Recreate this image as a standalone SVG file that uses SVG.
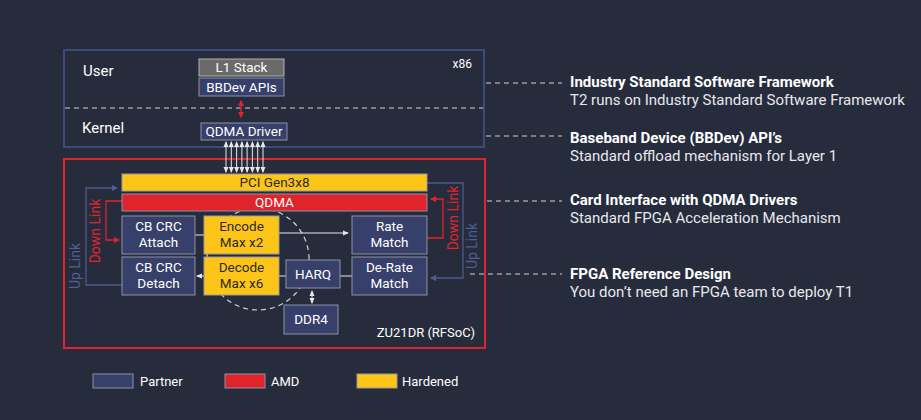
<svg xmlns="http://www.w3.org/2000/svg" width="921" height="420" viewBox="0 0 921 420">
<style>
text{font-family:Roboto,"Liberation Sans",sans-serif}
.bg{fill:#272c3d}
.partner{fill:#37406a;stroke:#8c92a3;stroke-width:1}
.amd{fill:#e0242b;stroke:#8c92a3;stroke-width:1}
.hard{fill:#fec519;stroke:#9a9aa0;stroke-width:1}
.grey{fill:#6a6a6a;stroke:#b0b0b0;stroke-width:1}
.t{font-size:13.5px;fill:#ffffff;text-anchor:middle}
.td{font-size:13.5px;fill:#2a2a2a;text-anchor:middle}
.lbl{font-size:15px;fill:#ffffff}
.h{font-size:15px;font-weight:bold;fill:#ffffff}
.s{font-size:15px;fill:#e8e8ec}
.dash{stroke:#d0d3da;stroke-width:1.2;stroke-dasharray:5 4;fill:none}
.w{stroke:#e6e6e6;stroke-width:1;fill:none}
.red{stroke:#e0242b;stroke-width:1.3;fill:none}
.blue{stroke:#4c5a8c;stroke-width:1.3;fill:none}
.lg{font-size:13px;fill:#ffffff}
</style>
<defs>
<marker id="aw" viewBox="0 0 6 6" refX="5" refY="3" markerWidth="6" markerHeight="6" orient="auto-start-reverse"><path d="M0,0.5 L6,3 L0,5.5 z" fill="#e6e6e6"/></marker>
<marker id="ar" viewBox="0 0 6 6" refX="5" refY="3" markerWidth="5" markerHeight="5" orient="auto-start-reverse"><path d="M0,0 L6,3 L0,6 z" fill="#e0242b"/></marker>
<marker id="ab" viewBox="0 0 6 6" refX="5" refY="3" markerWidth="5" markerHeight="5" orient="auto-start-reverse"><path d="M0,0 L6,3 L0,6 z" fill="#4f5e94"/></marker>
</defs>
<rect class="bg" x="0" y="0" width="921" height="420"/>

<g id="x86">
<rect x="64" y="50" width="420" height="97" fill="none" stroke="#3d4a7c" stroke-width="2"/>
<line class="dash" x1="65" y1="108" x2="483" y2="108"/>
<text class="lbl" x="83" y="76">User</text>
<text class="lbl" x="82" y="133">Kernel</text>
<text x="472" y="68" font-size="12" fill="#ffffff" text-anchor="end">x86</text>
</g>

<g id="rfsoc">
<rect x="64" y="159" width="421" height="189" fill="none" stroke="#e0242b" stroke-width="2"/>
<text x="475" y="337" font-size="13" fill="#ffffff" text-anchor="end">ZU21DR (RFSoC)</text>
</g>

<g id="connectors">
<line x1="241" y1="101" x2="241" y2="117" class="red" marker-start="url(#ar)" marker-end="url(#ar)"/>
<g class="w" marker-start="url(#aw)" marker-end="url(#aw)">
<line x1="226" y1="142" x2="226" y2="172"/>
<line x1="231.3" y1="142" x2="231.3" y2="172"/>
<line x1="236.6" y1="142" x2="236.6" y2="172"/>
<line x1="241.9" y1="142" x2="241.9" y2="172"/>
<line x1="247.1" y1="142" x2="247.1" y2="172"/>
<line x1="252.4" y1="142" x2="252.4" y2="172"/>
<line x1="257.7" y1="142" x2="257.7" y2="172"/>
<line x1="263" y1="142" x2="263" y2="172"/>
</g>
<circle cx="258" cy="259" r="51" class="dash" stroke-dasharray="4 4"/>
<line x1="195" y1="235" x2="204" y2="235" class="w"/>
<line x1="279" y1="233" x2="348" y2="233" class="w" marker-end="url(#aw)"/>
<line x1="352" y1="276" x2="340" y2="276" class="w"/>
<line x1="286" y1="276" x2="279" y2="276" class="w"/>
<line x1="204" y1="276" x2="197" y2="276" class="w" marker-end="url(#aw)"/>
<line x1="312" y1="291" x2="312" y2="303" class="w" marker-start="url(#aw)" marker-end="url(#aw)"/>
<polyline class="blue" points="122,285 86,285 86,188 117,188" marker-end="url(#ab)"/>
<polyline class="red" points="122,201 106,201 106,240 119,240" marker-end="url(#ar)"/>
<polyline class="red" points="427,238 443,238 443,199 431,199" marker-end="url(#ar)"/>
<polyline class="blue" points="427,183 463,183 463,278 431,278" marker-end="url(#ab)"/>
<line class="dash" x1="486" y1="83" x2="562" y2="83"/>
<line class="dash" x1="486" y1="136" x2="562" y2="136"/>
<line class="dash" x1="487" y1="201" x2="562" y2="201"/>
<line class="dash" x1="470" y1="274" x2="562" y2="274"/>
</g>

<text x="75" y="266" font-size="14" fill="#4f5e94" text-anchor="middle" transform="rotate(-90 75 266)" dy="5">Up Link</text>
<text x="95" y="231" font-size="14" fill="#e0242b" text-anchor="middle" transform="rotate(-90 95 231)" dy="5">Down Link</text>
<text x="453" y="218" font-size="14" fill="#e0242b" text-anchor="middle" transform="rotate(-90 453 218)" dy="5">Down Link</text>
<text x="472" y="246" font-size="14" fill="#4f5e94" text-anchor="middle" transform="rotate(-90 472 246)" dy="5">Up Link</text>

<g id="l1stack"><rect class="grey" x="199" y="59" width="85" height="17"/><text class="t" x="241.5" y="72">L1 Stack</text></g>
<g id="bbdev"><rect class="partner" x="199" y="78" width="85" height="18"/><text class="t" x="241.5" y="91.5">BBDev APIs</text></g>
<g id="qdmadriver"><rect class="partner" x="201" y="123" width="86" height="17"/><text class="t" x="244" y="136">QDMA Driver</text></g>
<g id="pci"><rect class="hard" x="122" y="174" width="305" height="17"/><text class="td" x="274.5" y="187">PCI Gen3x8</text></g>
<g id="qdma"><rect class="amd" x="122" y="194" width="305" height="17"/><text class="t" x="274.5" y="207">QDMA</text></g>
<g id="cbattach"><rect class="partner" x="122" y="216" width="73" height="38"/><text class="t" x="158.5" y="231">CB CRC</text><text class="t" x="158.5" y="247">Attach</text></g>
<g id="encode"><rect class="hard" x="204" y="216" width="75" height="38"/><text class="td" x="241.5" y="231">Encode</text><text class="td" x="241.5" y="247">Max x2</text></g>
<g id="ratematch"><rect class="partner" x="352" y="216" width="75" height="38"/><text class="t" x="389.5" y="231">Rate</text><text class="t" x="389.5" y="247">Match</text></g>
<g id="cbdetach"><rect class="partner" x="122" y="257" width="73" height="38"/><text class="t" x="158.5" y="272">CB CRC</text><text class="t" x="158.5" y="288">Detach</text></g>
<g id="decode"><rect class="hard" x="204" y="257" width="75" height="38"/><text class="td" x="241.5" y="272">Decode</text><text class="td" x="241.5" y="288">Max x6</text></g>
<g id="harq"><rect class="partner" x="286" y="260" width="54" height="28"/><text class="t" x="313" y="279">HARQ</text></g>
<g id="derate"><rect class="partner" x="352" y="257" width="75" height="38"/><text class="t" x="389.5" y="272">De-Rate</text><text class="t" x="389.5" y="288">Match</text></g>
<g id="ddr4"><rect class="partner" x="284" y="305" width="54" height="29"/><text class="t" x="311" y="324">DDR4</text></g>

<g id="callouts">
<text class="h" x="570" y="87">Industry Standard Software Framework</text>
<text class="s" x="570" y="105">T2 runs on Industry Standard Software Framework</text>
<text class="h" x="570" y="143">Baseband Device (BBDev) API’s</text>
<text class="s" x="570" y="161">Standard offload mechanism for Layer 1</text>
<text class="h" x="570" y="205">Card Interface with QDMA Drivers</text>
<text class="s" x="570" y="223">Standard FPGA Acceleration Mechanism</text>
<text class="h" x="570" y="279">FPGA Reference Design</text>
<text class="s" x="570" y="297">You don’t need an FPGA team to deploy T1</text>
</g>

<g id="legend">
<rect class="partner" x="93" y="374" width="40" height="14"/><text class="lg" x="140" y="386">Partner</text>
<rect class="amd" x="225" y="374" width="40" height="14"/><text class="lg" x="271" y="386">AMD</text>
<rect class="hard" x="357" y="374" width="40" height="14"/><text class="lg" x="402" y="386">Hardened</text>
</g>
</svg>
